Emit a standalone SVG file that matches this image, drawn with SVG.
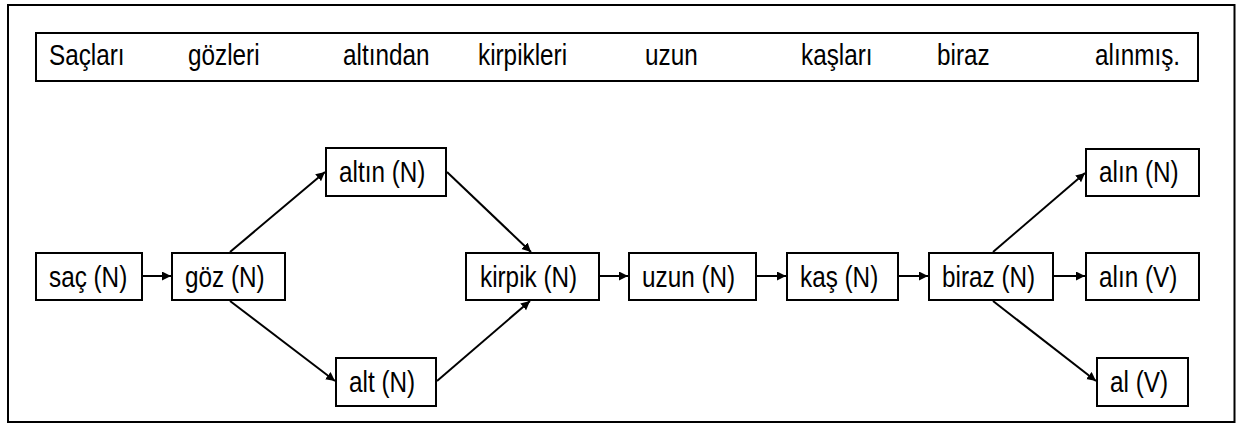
<svg xmlns="http://www.w3.org/2000/svg" width="1239" height="427" viewBox="0 0 1239 427">
  <style>
    .frame { fill: #ffffff; stroke: #000000; stroke-width: 2; }
    .box { fill: #ffffff; stroke: #000000; stroke-width: 2; }
    .lbl { font-family: "Liberation Sans", Arial, sans-serif; font-size: 30px; fill: #000000; }
    .edge { stroke: #000000; stroke-width: 2; fill: none; marker-end: url(#arrow); }
  </style>
  <defs>
    <marker id="arrow" markerUnits="userSpaceOnUse" markerWidth="10" markerHeight="10" refX="9" refY="4.5" orient="auto">
      <path d="M0,0 L9,4.5 L0,9 Z" fill="#000000"/>
    </marker>
  </defs>

  <rect width="1239" height="427" fill="#ffffff"/>
  <!-- outer frame -->
  <rect class="frame" x="8" y="5" width="1226.5" height="417"/>

  <!-- sentence strip; labels use a narrow, tall face (horizontal scale 0.81) -->
  <g id="sentence">
    <rect class="box" x="36" y="33" width="1162" height="48"/>
    <text class="lbl" transform="translate(49 65) scale(0.81 1)">Saçları</text>
    <text class="lbl" transform="translate(188 65) scale(0.81 1)">gözleri</text>
    <text class="lbl" transform="translate(343 65) scale(0.81 1)">altından</text>
    <text class="lbl" transform="translate(478 65) scale(0.81 1)">kirpikleri</text>
    <text class="lbl" transform="translate(645 65) scale(0.81 1)">uzun</text>
    <text class="lbl" transform="translate(801 65) scale(0.81 1)">kaşları</text>
    <text class="lbl" transform="translate(937 65) scale(0.81 1)">biraz</text>
    <text class="lbl" transform="translate(1095 65) scale(0.81 1)">alınmış.</text>
  </g>

  <!-- connectors -->
  <g id="connectors">
    <line class="edge" x1="143" y1="276" x2="171" y2="276"/>
    <line class="edge" x1="230" y1="252" x2="325" y2="172"/>
    <line class="edge" x1="230" y1="301" x2="335" y2="381"/>
    <line class="edge" x1="447" y1="172" x2="531" y2="252"/>
    <line class="edge" x1="437" y1="381" x2="530" y2="301"/>
    <line class="edge" x1="600" y1="276" x2="628" y2="276"/>
    <line class="edge" x1="757" y1="276" x2="786" y2="276"/>
    <line class="edge" x1="899" y1="276" x2="928" y2="276"/>
    <line class="edge" x1="993" y1="252" x2="1085" y2="173"/>
    <line class="edge" x1="1054" y1="276" x2="1085" y2="276"/>
    <line class="edge" x1="993" y1="301" x2="1096" y2="381"/>
  </g>

  <!-- nodes -->
  <g id="n-sac">
    <rect class="box" x="36" y="253" width="106" height="47"/>
    <text class="lbl" transform="translate(49 287) scale(0.81 1)">saç (N)</text>
  </g>
  <g id="n-goz">
    <rect class="box" x="172" y="253" width="113" height="47"/>
    <text class="lbl" transform="translate(185 287) scale(0.81 1)">göz (N)</text>
  </g>
  <g id="n-altin-n">
    <rect class="box" x="326" y="148" width="120" height="48"/>
    <text class="lbl" transform="translate(339 182) scale(0.81 1)">altın (N)</text>
  </g>
  <g id="n-alt-n">
    <rect class="box" x="336" y="358" width="100" height="48"/>
    <text class="lbl" transform="translate(349 392) scale(0.81 1)">alt (N)</text>
  </g>
  <g id="n-kirpik">
    <rect class="box" x="466" y="253" width="133" height="47"/>
    <text class="lbl" transform="translate(480 287) scale(0.81 1)">kirpik (N)</text>
  </g>
  <g id="n-uzun">
    <rect class="box" x="629" y="253" width="127" height="47"/>
    <text class="lbl" transform="translate(642 287) scale(0.81 1)">uzun (N)</text>
  </g>
  <g id="n-kas">
    <rect class="box" x="787" y="253" width="111" height="47"/>
    <text class="lbl" transform="translate(800 287) scale(0.81 1)">kaş (N)</text>
  </g>
  <g id="n-biraz">
    <rect class="box" x="929" y="253" width="124" height="47"/>
    <text class="lbl" transform="translate(942 287) scale(0.81 1)">biraz (N)</text>
  </g>
  <g id="n-alin-n">
    <rect class="box" x="1086" y="149" width="113" height="47"/>
    <text class="lbl" transform="translate(1099 182) scale(0.81 1)">alın (N)</text>
  </g>
  <g id="n-alin-v">
    <rect class="box" x="1086" y="253" width="113" height="47"/>
    <text class="lbl" transform="translate(1099 287) scale(0.81 1)">alın (V)</text>
  </g>
  <g id="n-al-v">
    <rect class="box" x="1097" y="358" width="91" height="48"/>
    <text class="lbl" transform="translate(1110 392) scale(0.81 1)">al (V)</text>
  </g>
</svg>
